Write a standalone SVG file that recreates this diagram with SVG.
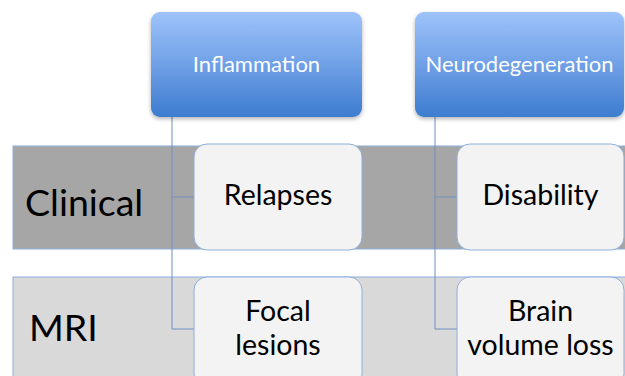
<svg xmlns="http://www.w3.org/2000/svg" width="625" height="376" viewBox="0 0 625 376">
<defs>
<linearGradient id="hg" x1="0" y1="0" x2="0" y2="1">
<stop offset="0" stop-color="#9ec3fa"/>
<stop offset="0.5" stop-color="#6fa0e6"/>
<stop offset="1" stop-color="#3d7ccf"/>
</linearGradient>
<filter id="sh" x="-10%" y="-10%" width="120%" height="130%">
<feDropShadow dx="0" dy="2" stdDeviation="2" flood-color="#000" flood-opacity="0.3"/>
</filter>
<style>
.hdr{fill:url(#hg);filter:url(#sh)}
.ht{font-family:Lato,"Open Sans",sans-serif;font-size:22px;fill:#fff;text-anchor:middle}
.box{fill:#f3f3f3;stroke:#8eb0dc;stroke-width:1}
.bt{font-family:Lato,"Open Sans",sans-serif;font-size:28.5px;fill:#000;text-anchor:middle}
.lt{font-family:Lato,"Open Sans",sans-serif;font-size:37.5px;fill:#000}
.con{fill:none;stroke:#6f8fbf;stroke-width:1}
</style>
</defs>
<rect width="625" height="376" fill="#fff"/>
<g id="band-clinical">
<rect x="13" y="146" width="620" height="103" fill="#a6a6a6" stroke="#8eb0dc"/>
<text class="lt" x="25" y="216">Clinical</text>
</g>
<g id="band-mri">
<rect x="13" y="277" width="620" height="110" fill="#d9d9d9" stroke="#8eb0dc"/>
<text class="lt" x="29" y="341">MRI</text>
</g>
<g id="connectors">
<path class="con" d="M172 117 V329 H194 M172 197 H194"/>
<path class="con" d="M435 117 V329 H457 M435 197 H457"/>
</g>
<g id="inflammation">
<rect class="hdr" x="151" y="12" width="211" height="105" rx="9"/>
<text class="ht" x="256.5" y="72">Inflammation</text>
</g>
<g id="neurodegeneration">
<rect class="hdr" x="415" y="12" width="209" height="105" rx="9"/>
<text class="ht" x="519.5" y="72">Neurodegeneration</text>
</g>
<g id="relapses">
<rect class="box" x="194" y="144" width="168" height="106" rx="13"/>
<text class="bt" x="278" y="205">Relapses</text>
</g>
<g id="disability">
<rect class="box" x="457" y="144" width="167" height="106" rx="13"/>
<text class="bt" x="540.5" y="205">Disability</text>
</g>
<g id="focal-lesions">
<rect class="box" x="194" y="277" width="168" height="110" rx="13"/>
<text class="bt" x="278" y="321">Focal</text>
<text class="bt" x="278" y="355">lesions</text>
</g>
<g id="brain-volume-loss">
<rect class="box" x="457" y="277" width="167" height="110" rx="13"/>
<text class="bt" x="540.5" y="321">Brain</text>
<text class="bt" x="540.5" y="355">volume loss</text>
</g>
</svg>
